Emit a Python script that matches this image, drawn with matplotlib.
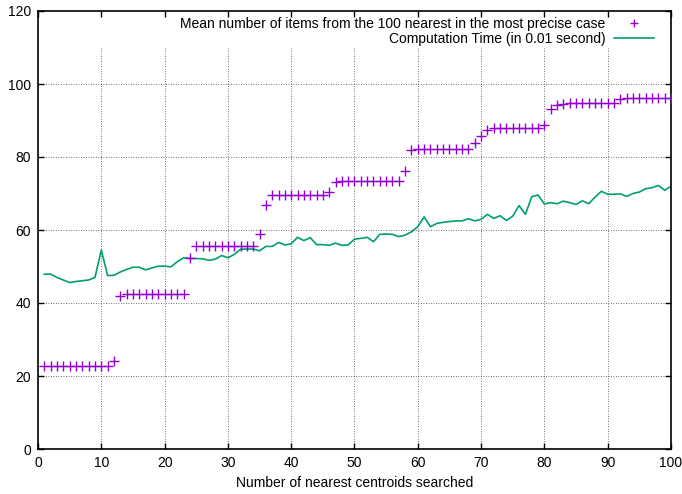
import numpy as np
import matplotlib
matplotlib.use("Agg")
import matplotlib.pyplot as plt

plt.rcParams['font.family'] = ['Liberation Sans', 'DejaVu Sans']

centroids = np.arange(1, 101)

precision = ([22.8] * 11 + [24.0, 41.9] + [42.4] * 9 + [42.6, 52.4] + [55.7] * 10
             + [59.0, 66.8] + [69.5] * 9 + [70.3, 73.2, 73.3] + [73.5] * 9
             + [76.2, 81.8] + [82.1] * 9 + [83.8, 85.7, 87.5] + [87.9] * 8
             + [88.9, 93.2, 94.2, 94.4] + [94.9] * 8 + [95.8] + [96.2] * 8)

comp_time = [47.9, 47.9, 47.0, 46.3, 45.6, 45.9, 46.1, 46.3, 47.0, 54.5,
             47.5, 47.6, 48.5, 49.2, 49.8, 49.8, 49.1, 49.6, 50.1, 50.1,
             49.9, 51.3, 52.4, 52.2, 52.2, 52.1, 51.7, 52.0, 53.0, 52.4,
             53.3, 54.7, 54.8, 54.8, 54.3, 55.5, 55.5, 56.6, 55.9, 56.2,
             58.0, 57.1, 57.9, 56.0, 56.0, 55.8, 56.4, 55.8, 55.9, 57.5,
             57.7, 58.0, 56.8, 58.8, 58.9, 58.8, 58.2, 58.6, 59.5, 60.9,
             63.6, 60.9, 61.8, 62.1, 62.3, 62.5, 62.5, 63.1, 62.5, 62.9,
             64.3, 63.2, 63.9, 62.6, 63.8, 66.7, 64.3, 69.1, 69.6, 67.1,
             67.5, 67.2, 67.9, 67.5, 67.0, 68.0, 67.2, 69.0, 70.6, 69.8,
             69.8, 69.9, 69.2, 70.0, 70.4, 71.3, 71.6, 72.2, 70.9, 72.0]

xticks = list(range(0, 101, 10))
yticks = list(range(0, 121, 20))

label_prec = "Mean number of items from the 100 nearest in the most precise case"
label_time = "Computation Time (in 0.01 second)"
xlabel = "Number of nearest centroids searched"

W, H = 682, 494
fig = plt.figure(figsize=(W / 100, H / 100), dpi=100)
L, R, T, B = 38, 671, 11, 449
ax = fig.add_axes([L / W, (H - B) / H, (R - L) / W, (B - T) / H])

ax.set_xlim(0, 100)
ax.set_ylim(0, 120)

grid_kw = dict(color='#444444', linewidth=0.6, linestyle=(0, (1, 2)), zorder=0)
for y in yticks[1:-1]:
    ax.axhline(y, **grid_kw)
ax.vlines(xticks[1:-1], 0, 110.2, **grid_kw)

ax.plot(centroids, precision, linestyle='none', marker='+', markersize=6.5,
        markeredgewidth=1.0, color='#9400D3', label=label_prec, zorder=3)
ax.plot(centroids, comp_time, color='#009E73', linewidth=1.2,
        label=label_time, zorder=2)

ax.set_xticks(xticks)
ax.set_yticks(yticks)
ax.tick_params(direction='in', length=4, width=1, top=True, right=True,
               labelsize=10, pad=5, colors='black')
for s in ax.spines.values():
    s.set_linewidth(1.2)

ax.set_xlabel(xlabel, fontsize=10, labelpad=4)

leg = ax.legend(loc='upper right', bbox_to_anchor=((654 - L) / (R - L), (B - 17) / (B - T)),
                frameon=False, markerfirst=False, fontsize=10, handlelength=2.9,
                handletextpad=0.6, labelspacing=0.05, borderaxespad=0, borderpad=0,
                markerscale=0.8)

fig.savefig("out.png", dpi=100)
